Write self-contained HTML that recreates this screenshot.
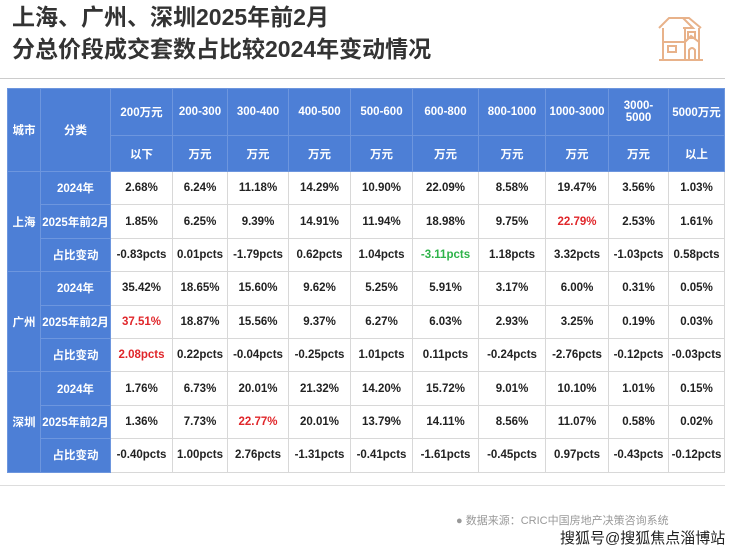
<!DOCTYPE html><html><head><meta charset="utf-8"><style>
body{margin:0;width:740px;height:552px;background:#fff;position:relative;overflow:hidden;font-family:"Liberation Sans","Noto Sans CJK SC",sans-serif}
.t{position:absolute;left:12px;font-weight:bold;color:#333;font-size:23px;line-height:28px}
table{position:absolute;left:7px;top:88px;border-collapse:collapse;table-layout:fixed;width:717px}
td{border:1px solid #d8d8d8;text-align:center;font-size:11.5px;font-weight:bold;color:#222;padding:0;height:32.4px}
.h{background:#4d7fd6;color:#fff;border-color:#6d96de}
.r{color:#e0262a}.g{color:#2fb34a}
</style></head><body>
<div class="t" style="top:3px">上海、广州、深圳2025年前2月</div>
<div class="t" style="top:35px">分总价段成交套数占比较2024年变动情况</div>
<svg style="position:absolute;left:655px;top:14px" width="52" height="50" viewBox="0 0 52 50" fill="none" stroke="#e8b28a" stroke-width="2">
<path d="M4 14 L14 4 L34 4 L46 14 M28 4 L38 14 L28 14 M8 14 V46 M4 46 H48 M44 14 V46 M30 14 V46 M8 28 H30 L36 22 L44 28"/>
<rect x="13" y="32" width="8" height="6"/><rect x="33" y="18" width="7" height="6"/><path d="M34 46 V36 Q37 32 40 36 V46"/>
</svg>
<div style="position:absolute;left:0;top:78px;width:725px;height:1px;background:#ccc"></div>
<table>
<colgroup><col style="width:33px"><col style="width:70px"><col style="width:62px"><col style="width:55px"><col style="width:61px"><col style="width:62px"><col style="width:62px"><col style="width:66px"><col style="width:67px"><col style="width:63px"><col style="width:60px"><col style="width:56px"></colgroup>
<tr><td class="h" rowspan="2">城市</td><td class="h" rowspan="2">分类</td><td class="h" style="height:46px">200万元</td><td class="h">200-300</td><td class="h">300-400</td><td class="h">400-500</td><td class="h">500-600</td><td class="h">600-800</td><td class="h">800-1000</td><td class="h">1000-3000</td><td class="h">3000-<br>5000</td><td class="h">5000万元</td></tr>
<tr><td class="h" style="height:35px">以下</td><td class="h">万元</td><td class="h">万元</td><td class="h">万元</td><td class="h">万元</td><td class="h">万元</td><td class="h">万元</td><td class="h">万元</td><td class="h">万元</td><td class="h">以上</td></tr>
<tr><td class="h" rowspan="3">上海</td><td class="h">2024年</td><td>2.68%</td><td>6.24%</td><td>11.18%</td><td>14.29%</td><td>10.90%</td><td>22.09%</td><td>8.58%</td><td>19.47%</td><td>3.56%</td><td>1.03%</td></tr>
<tr><td class="h">2025年前2月</td><td>1.85%</td><td>6.25%</td><td>9.39%</td><td>14.91%</td><td>11.94%</td><td>18.98%</td><td>9.75%</td><td class="r">22.79%</td><td>2.53%</td><td>1.61%</td></tr>
<tr><td class="h">占比变动</td><td>-0.83pcts</td><td>0.01pcts</td><td>-1.79pcts</td><td>0.62pcts</td><td>1.04pcts</td><td class="g">-3.11pcts</td><td>1.18pcts</td><td>3.32pcts</td><td>-1.03pcts</td><td>0.58pcts</td></tr>
<tr><td class="h" rowspan="3">广州</td><td class="h">2024年</td><td>35.42%</td><td>18.65%</td><td>15.60%</td><td>9.62%</td><td>5.25%</td><td>5.91%</td><td>3.17%</td><td>6.00%</td><td>0.31%</td><td>0.05%</td></tr>
<tr><td class="h">2025年前2月</td><td class="r">37.51%</td><td>18.87%</td><td>15.56%</td><td>9.37%</td><td>6.27%</td><td>6.03%</td><td>2.93%</td><td>3.25%</td><td>0.19%</td><td>0.03%</td></tr>
<tr><td class="h">占比变动</td><td class="r">2.08pcts</td><td>0.22pcts</td><td>-0.04pcts</td><td>-0.25pcts</td><td>1.01pcts</td><td>0.11pcts</td><td>-0.24pcts</td><td>-2.76pcts</td><td>-0.12pcts</td><td>-0.03pcts</td></tr>
<tr><td class="h" rowspan="3">深圳</td><td class="h">2024年</td><td>1.76%</td><td>6.73%</td><td>20.01%</td><td>21.32%</td><td>14.20%</td><td>15.72%</td><td>9.01%</td><td>10.10%</td><td>1.01%</td><td>0.15%</td></tr>
<tr><td class="h">2025年前2月</td><td>1.36%</td><td>7.73%</td><td class="r">22.77%</td><td>20.01%</td><td>13.79%</td><td>14.11%</td><td>8.56%</td><td>11.07%</td><td>0.58%</td><td>0.02%</td></tr>
<tr><td class="h">占比变动</td><td>-0.40pcts</td><td>1.00pcts</td><td>2.76pcts</td><td>-1.31pcts</td><td>-0.41pcts</td><td>-1.61pcts</td><td>-0.45pcts</td><td>0.97pcts</td><td>-0.43pcts</td><td>-0.12pcts</td></tr>
</table>
<div style="position:absolute;left:0;top:485px;width:725px;height:1px;background:#ddd"></div>
<div style="position:absolute;left:456px;top:512px;font-size:11px;color:#999">● 数据来源：CRIC中国房地产决策咨询系统</div>
<div style="position:absolute;left:560px;top:527px;font-size:15px;color:#222">搜狐号@搜狐焦点淄博站</div>
</body></html>
